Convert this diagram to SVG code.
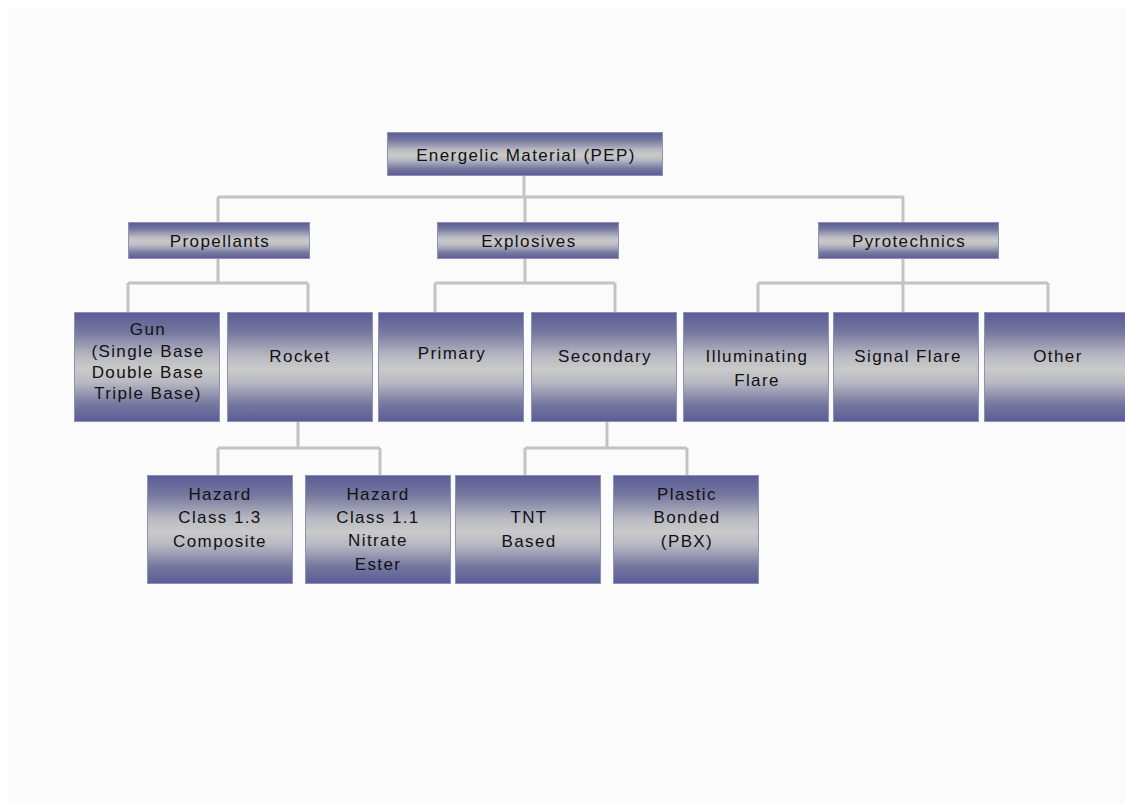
<svg xmlns="http://www.w3.org/2000/svg" width="1125" height="803" viewBox="0 0 1125 803">
<defs>
<linearGradient id="g" x1="0" y1="0" x2="0" y2="1">
<stop offset="0" stop-color="#5a5c97"/>
<stop offset="0.18" stop-color="#76789f"/>
<stop offset="0.4" stop-color="#b8b9c2"/>
<stop offset="0.52" stop-color="#cacaca"/>
<stop offset="0.64" stop-color="#b8b9c2"/>
<stop offset="0.84" stop-color="#76789f"/>
<stop offset="1" stop-color="#5a5c97"/>
</linearGradient>
<style>
.b{fill:url(#g);stroke:#8f90b6;stroke-width:1}
.t{font-family:"Liberation Sans",Arial,sans-serif;font-size:17px;letter-spacing:1.4px;fill:#111;text-anchor:middle}
.c{fill:none;stroke:#c3c3c3;stroke-width:3}
</style>
</defs>
<rect x="0" y="0" width="1125" height="803" fill="#ffffff"/>
<rect x="8" y="8" width="1117" height="795" fill="#fbfbfb"/>
<g id="connectors" class="c">
<path d="M524 176V197M218 197H904M218 197V222M525 197V222M903 197V222"/>
<path d="M218 259V283M128 283H308M128 283V312M308 283V312"/>
<path d="M525 259V283M435 283H615M435 283V312M615 283V312"/>
<path d="M903 259V283M758 283H1048M758 283V312M903 283V312M1048 283V312"/>
<path d="M298 422V448M218 448H380M218 448V475M380 448V475"/>
<path d="M607 422V448M525 448H687M525 448V475M687 448V475"/>
</g>
<g id="root"><rect class="b" x="387.5" y="132.5" width="275" height="43"/><text class="t" x="526" y="161">Energelic Material (PEP)</text></g>
<g id="propellants"><rect class="b" x="128.5" y="222.5" width="181" height="36"/><text class="t" x="220" y="247">Propellants</text></g>
<g id="explosives"><rect class="b" x="437.5" y="222.5" width="181" height="36"/><text class="t" x="529" y="247">Explosives</text></g>
<g id="pyrotechnics"><rect class="b" x="818.5" y="222.5" width="180" height="36"/><text class="t" x="909" y="247">Pyrotechnics</text></g>
<g id="gun"><rect class="b" x="74.5" y="312.5" width="145" height="109"/><text class="t" x="148" y="335">Gun</text><text class="t" x="148" y="357">(Single Base</text><text class="t" x="148" y="378">Double Base</text><text class="t" x="148" y="399">Triple Base)</text></g>
<g id="rocket"><rect class="b" x="227.5" y="312.5" width="145" height="109"/><text class="t" x="300" y="362">Rocket</text></g>
<g id="primary"><rect class="b" x="378.5" y="312.5" width="145" height="109"/><text class="t" x="452" y="359">Primary</text></g>
<g id="secondary"><rect class="b" x="531.5" y="312.5" width="145" height="109"/><text class="t" x="605" y="362">Secondary</text></g>
<g id="illuminating"><rect class="b" x="683.5" y="312.5" width="145" height="109"/><text class="t" x="757" y="362">Illuminating</text><text class="t" x="757" y="386">Flare</text></g>
<g id="signal"><rect class="b" x="833.5" y="312.5" width="145" height="109"/><text class="t" x="908" y="362">Signal Flare</text></g>
<g id="other"><rect class="b" x="984.5" y="312.5" width="145" height="109"/><text class="t" x="1058" y="362">Other</text></g>
<g id="hazard13"><rect class="b" x="147.5" y="475.5" width="145" height="108"/><text class="t" x="220" y="500">Hazard</text><text class="t" x="220" y="523">Class 1.3</text><text class="t" x="220" y="547">Composite</text></g>
<g id="hazard11"><rect class="b" x="305.5" y="475.5" width="145" height="108"/><text class="t" x="378" y="500">Hazard</text><text class="t" x="378" y="523">Class 1.1</text><text class="t" x="378" y="546">Nitrate</text><text class="t" x="378" y="570">Ester</text></g>
<g id="tnt"><rect class="b" x="455.5" y="475.5" width="145" height="108"/><text class="t" x="529" y="523">TNT</text><text class="t" x="529" y="547">Based</text></g>
<g id="pbx"><rect class="b" x="613.5" y="475.5" width="145" height="108"/><text class="t" x="687" y="500">Plastic</text><text class="t" x="687" y="523">Bonded</text><text class="t" x="687" y="547">(PBX)</text></g>
</svg>
